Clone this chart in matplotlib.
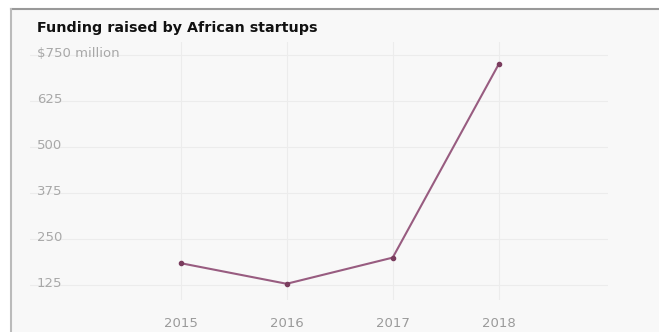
import matplotlib
matplotlib.use("Agg")
import matplotlib.pyplot as plt
from matplotlib.lines import Line2D
from matplotlib.transforms import blended_transform_factory

years = [2015, 2016, 2017, 2018]
funding = [185, 129, 200, 725]
y_ticks = [125, 250, 375, 500, 625, 750]
y_labels = ["125", "250", "375", "500", "625", "$750 million"]
title = "Funding raised by African startups"

BG = "#f8f8f8"
fig = plt.figure(figsize=(6.59, 3.32), dpi=100)
fig.patch.set_facecolor("white")

# panel background with grey top/left border, kept behind the axes
panel = plt.Rectangle((11 / 659, 0), 1, 1 - 9 / 332, transform=fig.transFigure,
                      facecolor=BG, edgecolor="none", zorder=-10)
fig.add_artist(panel)
fig.add_artist(Line2D([11 / 659, 1], [1 - 9 / 332] * 2, color="#999999", lw=1.5, zorder=-5))
fig.add_artist(Line2D([11 / 659] * 2, [0, 1 - 9 / 332], color="#bbbbbb", lw=1.5, zorder=-5))

ax = fig.add_axes([30 / 659, 1 - 300 / 332, 578 / 659, 258 / 332])
ax.patch.set_alpha(0)
for sp in ax.spines.values():
    sp.set_visible(False)

ax.set_xlim(2013.58, 2019.03)
ax.set_ylim(85, 785)

for y in y_ticks:
    ax.axhline(y, color="#ececec", lw=0.8, zorder=1)
for x in years:
    ax.axvline(x, color="#ececec", lw=0.8, zorder=1)

ax.plot(years, funding, color="#985c80", lw=1.5, zorder=3,
        marker="o", markersize=3, markerfacecolor="#7a3d5e", markeredgecolor="#7a3d5e")

ax.set_yticks([])
ax.set_xticks(years)
ax.set_xticklabels([str(y) for y in years])
ax.tick_params(axis="x", length=0, pad=12, labelsize=9.5, labelcolor="#9a9a9a")

tr = blended_transform_factory(ax.transAxes, ax.transData)
for y, lab in zip(y_ticks, y_labels):
    ax.text(7 / 578, y + 4, lab, transform=tr, ha="left", va="center",
            fontsize=9.5, color="#a8a8a8")

fig.text(37 / 659, 1 - 28 / 332, title, ha="left", va="center",
         fontsize=10.3, fontweight="bold", color="#111111")

fig.savefig("out.png", dpi=100, facecolor=fig.get_facecolor())
